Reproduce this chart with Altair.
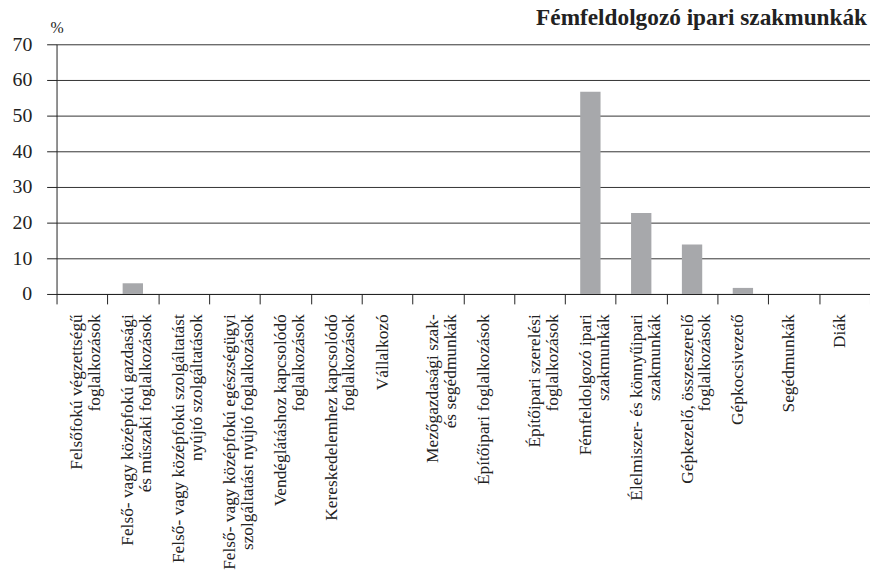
import altair as alt
import pandas as pd

categories = [
    "Felsőfokú végzettségű|foglalkozások",
    "Felső- vagy középfokú gazdasági|és műszaki foglalkozások",
    "Felső- vagy középfokú szolgáltatást|nyújtó szolgáltatások",
    "Felső- vagy középfokú egészségügyi|szolgáltatást nyújtó foglalkozások",
    "Vendéglátáshoz kapcsolódó|foglalkozások",
    "Kereskedelemhez kapcsolódó|foglalkozások",
    "Vállalkozó",
    "Mezőgazdasági szak-|és segédmunkák",
    "Építőipari foglalkozások",
    "Építőipari szerelési|foglalkozások",
    "Fémfeldolgozó ipari|szakmunkák",
    "Élelmiszer- és könnyűipari|szakmunkák",
    "Gépkezelő, összeszerelő|foglalkozások",
    "Gépkocsivezető",
    "Segédmunkák",
    "Diák",
]
values = [0, 3.0, 0, 0, 0, 0, 0, 0, 0, 0, 56.7, 22.7, 13.9, 1.7, 0, 0]
y_ticks = [0, 10, 20, 30, 40, 50, 60, 70]
title_text = "Fémfeldolgozó ipari szakmunkák"
y_unit = "%"

df = pd.DataFrame({"cat": categories, "val": values})

FONT = "Liberation Serif"
INK = "#222222"

chart = (
    alt.Chart(df)
    .mark_bar(color="#a7a8ab", width=alt.RelativeBandSize(0.4))
    .encode(
        x=alt.X(
            "cat:N",
            sort=None,
            scale=alt.Scale(paddingInner=0, paddingOuter=0),
            axis=alt.Axis(
                title=None,
                labelAngle=-90,
                labelExpr="split(datum.label, '|')",
                labelOffset=-5,
                labelLineHeight=18,
                labelFontSize=17.5,
                labelFont=FONT,
                labelColor=INK,
                labelPadding=10,
                labelLimit=400,
                tickBand="extent",
                tickSize=10,
                tickColor=INK,
                domainColor=INK,
                grid=False,
            ),
        ),
        y=alt.Y(
            "val:Q",
            scale=alt.Scale(domain=[0, 70], nice=False),
            axis=alt.Axis(
                values=y_ticks,
                title=y_unit,
                titleAngle=0,
                titleX=0,
                titleY=-12,
                titleAlign="center",
                titleBaseline="alphabetic",
                titleFont=FONT,
                titleFontSize=16,
                titleFontWeight="normal",
                titleColor=INK,
                labelFont=FONT,
                labelFontSize=20,
                labelColor=INK,
                labelPadding=15,
                tickSize=10,
                tickColor=INK,
                domainColor=INK,
                grid=True,
                gridColor="#333333",
                gridOpacity=1,
            ),
        ),
    )
    .properties(
        width=821,
        height=252,
        title=alt.TitleParams(
            title_text,
            anchor="end",
            frame="group",
            font=FONT,
            fontSize=23.5,
            fontWeight="bold",
            color=INK,
            baseline="alphabetic",
            offset=0,
            dy=29,
            dx=-3,
        ),
        autosize=alt.AutoSizeParams(type="none"),
        padding={"left": 49, "top": 34, "right": 0, "bottom": 280},
    )
    .configure_view(stroke=None)
)

chart.save("out.html", embed_options={"renderer": "svg", "actions": False})
